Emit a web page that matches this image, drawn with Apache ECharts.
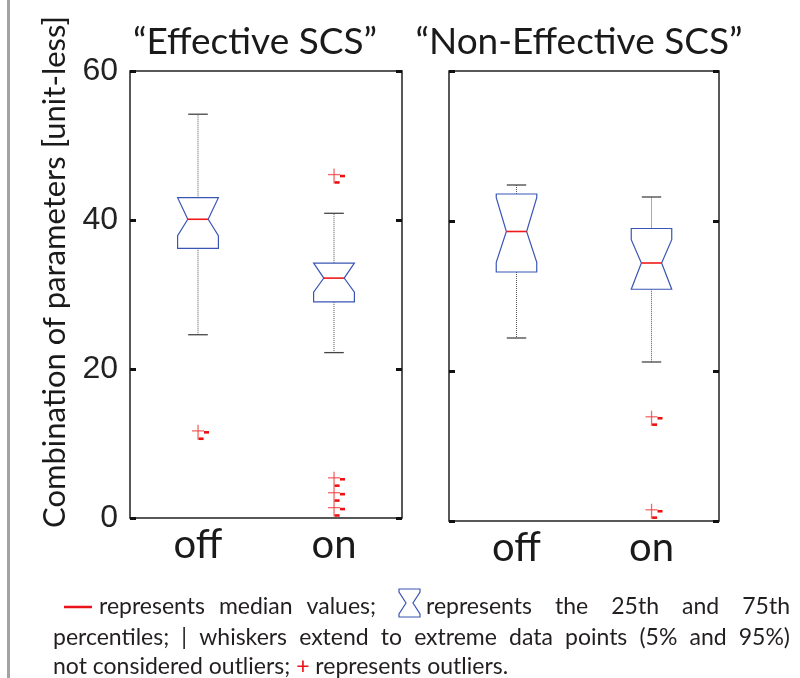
<!DOCTYPE html>
<html>
<head>
<meta charset="utf-8">
<script src="https://cdn.jsdelivr.net/npm/echarts@6/dist/echarts.min.js"></script>
<style>
html, body { margin: 0; background: #fff; }
#chart { width: 800px; height: 678px; }
</style>
</head>
<body>
<div id="chart"></div>
<script>
var categories = ['off', 'on'];
var panelTitles = ['\u201cEffective SCS\u201d', '\u201cNon-Effective SCS\u201d'];
var yTicks = [0, 20, 40, 60];
var yName = 'Combination of parameters [unit-less]';
// per box: [whisker low, q1, notch low, median, notch high, q3, whisker high]
var effectiveBoxes = [
    [24.6, 36.2, 37.9, 40.1, 43.0, 43.0, 54.2],
    [22.2, 29.0, 30.3, 32.2, 34.2, 34.2, 40.9]
];
var nonEffectiveBoxes = [
    [24.4, 33.2, 34.5, 38.6, 43.1, 43.6, 44.8],
    [21.2, 30.9, 30.9, 34.4, 37.5, 39.0, 43.2]
];
// [category index, value]
var effectiveOutliers = [[0, 11.7], [1, 46.1], [1, 5.4], [1, 3.4], [1, 1.4]];
var nonEffectiveOutliers = [[1, 13.9], [1, 1.5]];

var captionFont = '23px Lato';
var ink = '#231f20';

var chart = echarts.init(document.getElementById('chart'));

function boxData(boxes) {
    return boxes.map(function (b, i) { return [i].concat(b); });
}

// notched box drawn from the axis scales
function renderBox(params, api) {
    var i = api.value(0);
    var pt = function (v) { return api.coord([i, v]); };
    var band = api.size([1, 0])[0];
    var hw = band * 0.15, nw = band * 0.075, cw = band * 0.072;
    var x = pt(api.value(4))[0];
    var yWL = pt(api.value(1))[1], yQ1 = pt(api.value(2))[1], yNL = pt(api.value(3))[1];
    var yMed = pt(api.value(4))[1], yNH = pt(api.value(5))[1], yQ3 = pt(api.value(6))[1];
    var yWH = pt(api.value(7))[1];
    var whisker = { stroke: '#555', lineWidth: 1, lineDash: [1, 1] };
    var cap = { stroke: '#444', lineWidth: 1.3 };
    return {
        type: 'group',
        children: [
            { type: 'line', shape: { x1: x, y1: yQ3, x2: x, y2: yWH }, style: whisker },
            { type: 'line', shape: { x1: x, y1: yQ1, x2: x, y2: yWL }, style: whisker },
            { type: 'line', shape: { x1: x - cw, y1: yWH, x2: x + cw, y2: yWH }, style: cap },
            { type: 'line', shape: { x1: x - cw, y1: yWL, x2: x + cw, y2: yWL }, style: cap },
            {
                type: 'polygon',
                shape: { points: [
                    [x - hw, yQ3], [x + hw, yQ3], [x + hw, yNH], [x + nw, yMed], [x + hw, yNL],
                    [x + hw, yQ1], [x - hw, yQ1], [x - hw, yNL], [x - nw, yMed], [x - hw, yNH]
                ] },
                style: { fill: '#fff', stroke: '#3a56b4', lineWidth: 1.2 }
            },
            { type: 'line', shape: { x1: x - nw, y1: yMed, x2: x + nw, y2: yMed }, style: { stroke: '#f01a1a', lineWidth: 1.6 } }
        ]
    };
}

// '+' outlier mark
function renderOutlier(params, api) {
    var p = api.coord([api.value(0), api.value(1)]);
    return {
        type: 'group',
        children: [
            { type: 'rect', shape: { x: p[0] - 6, y: p[1] - 0.6, width: 12, height: 1.3 }, style: { fill: '#f04040', opacity: 0.8 } },
            { type: 'rect', shape: { x: p[0] - 0.6, y: p[1] - 6, width: 1.3, height: 15 }, style: { fill: '#f04040', opacity: 0.8 } },
            { type: 'rect', shape: { x: p[0] + 6, y: p[1] + 0.2, width: 5, height: 2.6 }, style: { fill: '#ee1010' } },
            { type: 'rect', shape: { x: p[0] + 0.6, y: p[1] + 6.6, width: 5, height: 2.6 }, style: { fill: '#ee1010' } }
        ]
    };
}

var measureCtx = document.createElement('canvas').getContext('2d');
function textW(s, font) {
    measureCtx.font = font;
    return measureCtx.measureText(s).width;
}
function captionText(s, x, y, fill) {
    return { type: 'text', x: x, y: y, style: { text: s, font: captionFont, fill: fill || ink, textVerticalAlign: 'middle' } };
}
// spread words evenly between x0 and x1
function justify(text, x0, x1, y) {
    var words = text.split(' ');
    var widths = words.map(function (w) { return textW(w, captionFont); });
    var total = widths.reduce(function (a, b) { return a + b; }, 0);
    var gap = words.length > 1 ? (x1 - x0 - total) / (words.length - 1) : 0;
    var x = x0;
    return words.map(function (w, k) {
        var el = captionText(w, x, y);
        x += widths[k] + gap;
        return el;
    });
}

function yAxisFor(grid, pos, labels) {
    return {
        gridIndex: grid, type: 'value', position: pos, min: 0, max: 60, interval: 20,
        axisLine: { show: false },
        splitLine: { show: false },
        axisTick: { show: true, inside: true, length: 6, lineStyle: { color: '#111', width: 3 } },
        axisLabel: {
            show: labels, margin: 12, fontSize: 32, color: '#222', fontFamily: 'Liberation Sans',
            customValues: yTicks
        }
    };
}

function xAxisFor(grid) {
    return {
        gridIndex: grid, type: 'category', data: categories,
        axisLine: { show: false }, axisTick: { show: false }, splitLine: { show: false },
        axisLabel: { fontSize: 40, fontFamily: 'Lato', color: '#1a1a1a', margin: 7 }
    };
}

var l3a = 'not considered outliers; ';
var l3x = 53 + textW(l3a, captionFont);
var caption = [
    { type: 'line', shape: { x1: 64, y1: 607, x2: 92, y2: 607 }, style: { stroke: '#e8141a', lineWidth: 2.5 } },
    {
        type: 'polygon',
        shape: { points: [[399, 589], [420, 589], [420, 592], [413, 603], [420, 614], [420, 617], [399, 617], [399, 614], [406, 603], [399, 592]] },
        style: { fill: 'none', stroke: '#3a56b4', lineWidth: 1.2 }
    },
    captionText(l3a, 53, 667),
    captionText('+', l3x, 667, '#e8141a'),
    captionText(' represents outliers.', l3x + textW('+', captionFont), 667)
]
    .concat(justify('represents median values;', 99, 376, 607))
    .concat(justify('represents the 25th and 75th', 426, 790, 607))
    .concat(justify('percentiles; | whiskers extend to extreme data points (5% and 95%)', 53, 790, 638));

var option = {
    animation: false,
    backgroundColor: '#fff',
    grid: [
        { left: 130, top: 71, width: 272, height: 447, show: true, borderColor: '#222', borderWidth: 1.5 },
        { left: 449, top: 71, width: 270, height: 450, show: true, borderColor: '#222', borderWidth: 1.5 }
    ],
    xAxis: [xAxisFor(0), xAxisFor(1)],
    yAxis: [yAxisFor(0, 'left', true), yAxisFor(0, 'right', false), yAxisFor(1, 'left', false), yAxisFor(1, 'right', false)],
    graphic: [
        { type: 'rect', shape: { x: 7, y: 0, width: 3, height: 678 }, style: { fill: '#a3a3a3' } },
        { type: 'text', x: 255, y: 42, style: { text: panelTitles[0], fontSize: 37, fontFamily: 'Lato', fill: '#1a1a1a', textAlign: 'center', textVerticalAlign: 'middle' } },
        { type: 'text', x: 579, y: 42, style: { text: panelTitles[1], fontSize: 37, fontFamily: 'Lato', fill: '#1a1a1a', textAlign: 'center', textVerticalAlign: 'middle' } },
        { type: 'text', x: 55, y: 272, rotation: Math.PI / 2, style: { text: yName, fontSize: 31, fontFamily: 'Lato', fill: '#1a1a1a', textAlign: 'center', textVerticalAlign: 'middle' } }
    ].concat(caption),
    series: [
        { type: 'custom', xAxisIndex: 0, yAxisIndex: 0, renderItem: renderBox, data: boxData(effectiveBoxes), encode: { x: 0, y: [1, 2, 3, 4, 5, 6, 7] } },
        { type: 'custom', xAxisIndex: 0, yAxisIndex: 0, renderItem: renderOutlier, data: effectiveOutliers, encode: { x: 0, y: 1 } },
        { type: 'custom', xAxisIndex: 1, yAxisIndex: 2, renderItem: renderBox, data: boxData(nonEffectiveBoxes), encode: { x: 0, y: [1, 2, 3, 4, 5, 6, 7] } },
        { type: 'custom', xAxisIndex: 1, yAxisIndex: 2, renderItem: renderOutlier, data: nonEffectiveOutliers, encode: { x: 0, y: 1 } }
    ]
};
chart.setOption(option);
</script>
</body>
</html>
